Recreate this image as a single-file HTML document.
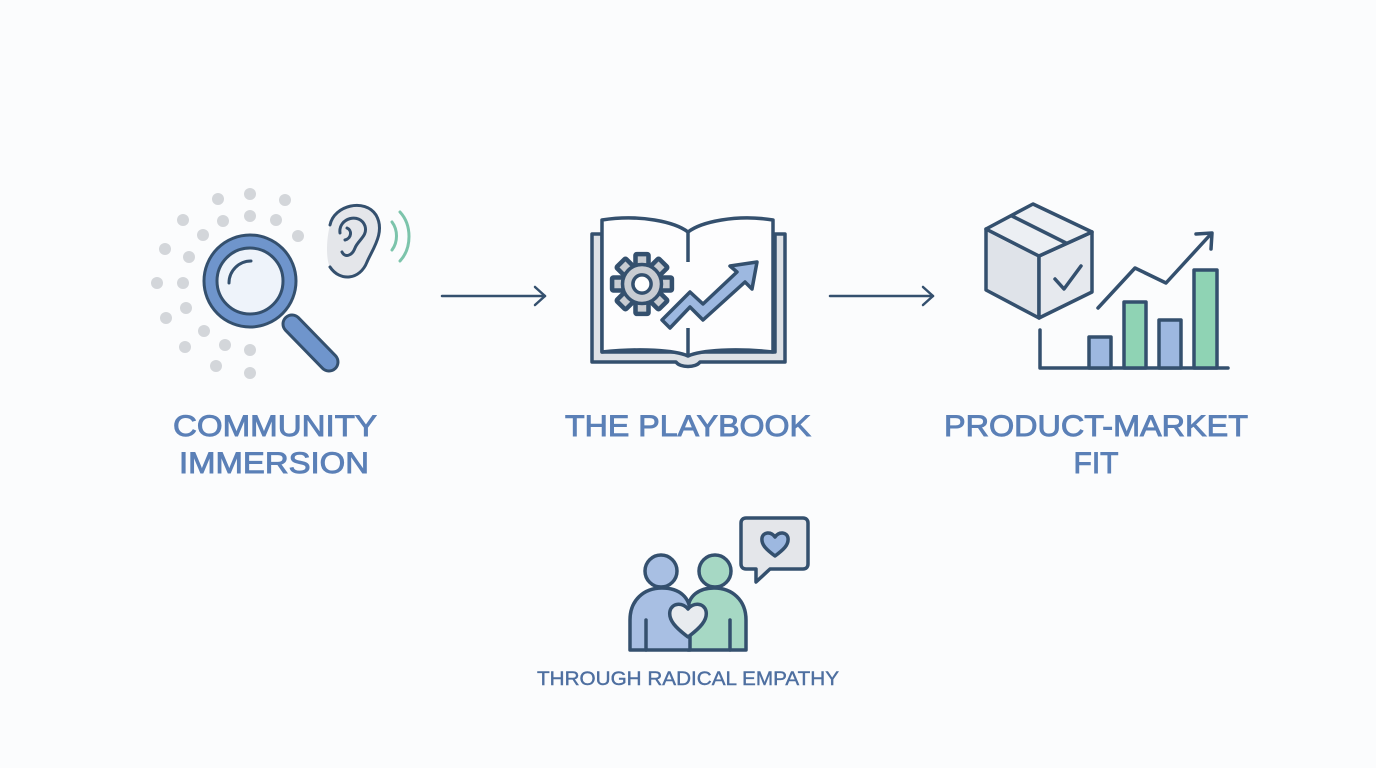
<!DOCTYPE html>
<html><head><meta charset="utf-8"><style>
html,body{margin:0;padding:0;background:#fbfcfd;}
svg{display:block;}
text{font-family:"Liberation Sans",sans-serif;}
</style></head><body>
<svg width="1376" height="768" viewBox="0 0 1376 768" xmlns="http://www.w3.org/2000/svg">
<rect width="1376" height="768" fill="#fbfcfd"/>
<g fill="#d3d6da">
<circle cx="250" cy="194" r="6"/><circle cx="218" cy="199" r="6"/><circle cx="285" cy="200" r="6"/>
<circle cx="183" cy="220" r="6"/><circle cx="223" cy="221" r="6"/><circle cx="250" cy="216" r="6"/>
<circle cx="276" cy="220" r="6"/><circle cx="203" cy="235" r="6"/><circle cx="298" cy="236" r="6"/>
<circle cx="165" cy="249" r="6"/><circle cx="189" cy="257" r="6"/><circle cx="157" cy="283" r="6"/>
<circle cx="183" cy="283" r="6"/><circle cx="186" cy="308" r="6"/><circle cx="166" cy="318" r="6"/>
<circle cx="204" cy="331" r="6"/><circle cx="185" cy="347" r="6"/><circle cx="225" cy="345" r="6"/>
<circle cx="250" cy="350" r="6"/><circle cx="216" cy="366" r="6"/><circle cx="250" cy="373" r="6"/>
</g>
<g stroke="#34506e" stroke-width="3" stroke-linejoin="round">
<line x1="292" y1="324" x2="329" y2="362" stroke="#34506e" stroke-width="21" stroke-linecap="round"/>
<line x1="292" y1="324" x2="329" y2="362" stroke="#6f95cc" stroke-width="15" stroke-linecap="round"/>
<circle cx="250" cy="281" r="46" fill="#6f95cc"/>
<circle cx="250" cy="281" r="33" fill="#eef3fa"/>
<path d="M229 283 A22 22 0 0 1 251 261" fill="none" stroke-linecap="round"/>
</g>
<g stroke="#34506e" stroke-width="3" fill="none" stroke-linecap="round">
<path d="M330 267 C 326 260 326 240 330 225 C 334 205 365 198 376 215 C 386 232 372 250 367 262 C 360 280 340 282 330 267 Z" fill="#e4e6ea" stroke="none"/>
<path d="M330 267 C 340 282 360 280 367 262 C 372 250 386 232 376 215 C 365 198 334 205 330 225"/>
<path d="M340 233 C 338 218 360 212 365 226 C 368 236 358 240 355 248 C 352 256 345 258 342 252"/>
<path d="M345 240 C 352 238 352 230 347 228"/>
</g>
<g stroke="#7cc4ab" stroke-width="3" fill="none" stroke-linecap="round">
<path d="M392 222 C 398 230 398 242 392 250"/>
<path d="M400 212 C 412 225 412 248 400 261"/>
</g>
<g stroke="#34506e" stroke-width="2.5" fill="none" stroke-linecap="round" stroke-linejoin="round">
<line x1="442" y1="296" x2="545" y2="296"/><polyline points="535,287 545,296 535,305"/>
<line x1="830" y1="296" x2="933" y2="296"/><polyline points="923,287 933,296 923,305"/>
</g>
<g stroke="#34506e" stroke-width="3.5" stroke-linejoin="round">
<path d="M592 234 H602 V352 H775 V234 H785 V362 H700 C 696 368 680 368 676 362 H592 Z" fill="#dde1e6"/>
<path d="M602 220 C 640 214 675 222 688 232 C 701 222 736 214 773 220 V352 C 736 348 701 350 688 356 C 675 350 640 348 602 352 Z" fill="#fdfdfe"/>
<line x1="688" y1="232" x2="688" y2="262"/><line x1="688" y1="328" x2="688" y2="356"/>
<g transform="translate(642,284) scale(1.3)">
<g fill="#c8ccd2">
<rect x="-5" y="-23" width="10" height="12" rx="1"/>
<rect x="-5" y="11" width="10" height="12" rx="1"/>
<rect x="-23" y="-5" width="12" height="10" rx="1"/>
<rect x="11" y="-5" width="12" height="10" rx="1"/>
<rect x="-5" y="-23" width="10" height="12" rx="1" transform="rotate(45)"/>
<rect x="-5" y="11" width="10" height="12" rx="1" transform="rotate(45)"/>
<rect x="-23" y="-5" width="12" height="10" rx="1" transform="rotate(45)"/>
<rect x="11" y="-5" width="12" height="10" rx="1" transform="rotate(45)"/>
</g>
<circle r="15" fill="#c8ccd2" stroke-width="2.7"/>
<circle r="7" fill="#fff" stroke-width="2.7"/>
</g>
<path d="M662 320 L690 292 L703 304 L737 272 L730 266 L757 262 L752 289 L745 282 L703 320 L690 307 L670 328 Z" fill="#9db8e0"/>
</g>
<g stroke="#34506e" stroke-width="3.5" stroke-linejoin="round" stroke-linecap="round">
<path d="M986 229 L1039 256 L1039 318 L986 290 Z" fill="#dfe3e9"/>
<path d="M1039 256 L1092 232 L1092 292 L1039 318 Z" fill="#e6e9ee"/>
<path d="M986 229 L1033 204 L1092 232 L1039 256 Z" fill="#eceff3"/>
<line x1="1012" y1="216" x2="1066" y2="243"/>
<polyline points="1055,279 1064,289 1081,266" fill="none"/>
<polyline points="1040,330 1040,368 1228,368" fill="none"/>
<rect x="1089" y="337" width="22" height="31" fill="#9db8e0"/>
<rect x="1124" y="302" width="22" height="66" fill="#8fd3b4"/>
<rect x="1159" y="320" width="22" height="48" fill="#9db8e0"/>
<rect x="1194" y="270" width="23" height="98" fill="#8fd3b4"/>
<polyline points="1098,308 1135,268 1166,283 1210,235" fill="none"/>
<polyline points="1196,234 1212,233 1211,249" fill="none"/>
</g>
<g stroke="#34506e" stroke-width="3.5" stroke-linejoin="round" stroke-linecap="round">
<path d="M688 650 V610 C 688 595 700 588 714 588 C 732 588 746 600 746 620 V650 Z" fill="#a6d8c4"/>
<circle cx="715" cy="571" r="16" fill="#a6d8c4"/>
<path d="M630 650 V620 C 630 600 644 588 662 588 C 680 588 690 598 690 612 V650 Z" fill="#a8bfe3"/>
<circle cx="661" cy="571" r="16" fill="#a8bfe3"/>
<line x1="646" y1="620" x2="646" y2="650"/><line x1="730" y1="620" x2="730" y2="650"/>
<path d="M688 637 C 676 628 668 620 670 611 C 672 603 682 602 688 609 C 694 602 704 603 706 611 C 708 620 700 628 688 637 Z" fill="#e8ebef"/>
<path d="M746 518 H803 C 806 518 808 520 808 523 V564 C 808 567 806 569 803 569 H770 L756 582 V569 H746 C 743 569 741 567 741 564 V523 C 741 520 743 518 746 518 Z" fill="#e4e6ea"/>
<path d="M775 556 C 767 550 761 545 762 538 C 763 532 771 531 775 537 C 779 531 787 532 788 538 C 789 545 783 550 775 556 Z" fill="#9db8e0"/>
</g>
<g fill="#5b80b7" stroke="#5b80b7" stroke-width="0.9" font-size="30" text-anchor="middle">
<text x="275" y="436" textLength="204" lengthAdjust="spacingAndGlyphs">COMMUNITY</text>
<text x="274" y="473" textLength="190" lengthAdjust="spacingAndGlyphs">IMMERSION</text>
<text x="688" y="436" textLength="246" lengthAdjust="spacingAndGlyphs">THE PLAYBOOK</text>
<text x="1096" y="436" textLength="304" lengthAdjust="spacingAndGlyphs">PRODUCT-MARKET</text>
<text x="1096" y="473">FIT</text>
</g>
<text x="688" y="685" fill="#4e6fa0" stroke="#4e6fa0" stroke-width="0.4" font-size="19" text-anchor="middle" textLength="302" lengthAdjust="spacingAndGlyphs">THROUGH RADICAL EMPATHY</text>
</svg>
</body></html>
